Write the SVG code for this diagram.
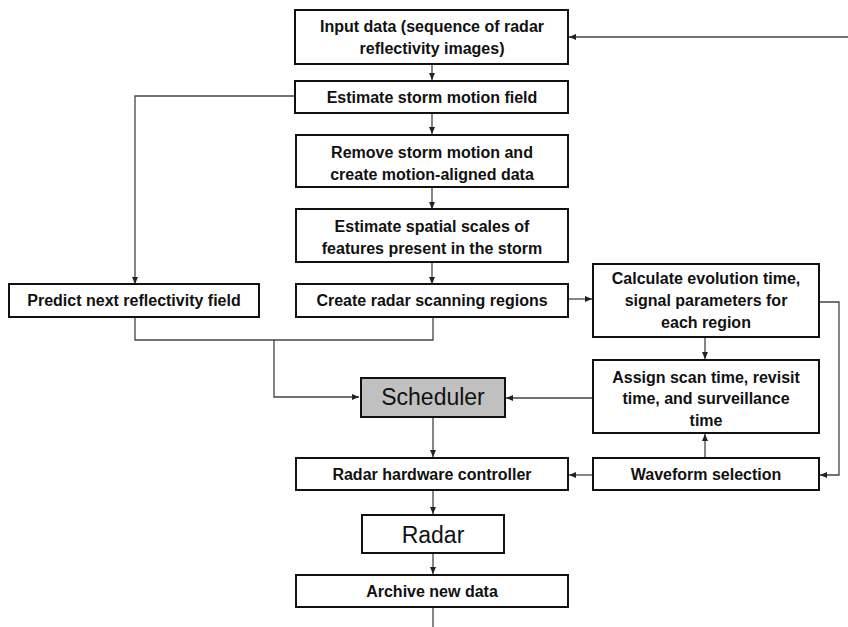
<svg xmlns="http://www.w3.org/2000/svg" width="848" height="627" viewBox="0 0 848 627">
<style>
.box{fill:#fff;stroke:#111;stroke-width:2}
.grey{fill:#c0c0c0}
.t{font-family:"Liberation Sans",Arial,sans-serif;font-size:16px;font-weight:bold;fill:#111;text-anchor:middle}
.big{font-family:"Liberation Sans",Arial,sans-serif;font-size:23px;fill:#111;text-anchor:middle}
.c{fill:none;stroke:#444;stroke-width:1.3}
</style>
<defs>
<marker id="a" markerWidth="8" markerHeight="8" refX="7" refY="4" orient="auto" markerUnits="userSpaceOnUse">
<path d="M0,1 L7,4 L0,7 Z" fill="#222"/>
</marker>
</defs>
<rect width="848" height="627" fill="#fff"/>
<g id="connectors">
<path class="c" d="M848,37 H569" marker-end="url(#a)"/>
<path class="c" d="M432,64 V80" marker-end="url(#a)"/>
<path class="c" d="M432,113 V134" marker-end="url(#a)"/>
<path class="c" d="M432,187 V209" marker-end="url(#a)"/>
<path class="c" d="M432,262 V284" marker-end="url(#a)"/>
<path class="c" d="M295,96 H135 V284" marker-end="url(#a)"/>
<path class="c" d="M568,299 H592" marker-end="url(#a)"/>
<path class="c" d="M135,317 V340 H433 V317"/>
<path class="c" d="M274,340 V397 H359" marker-end="url(#a)"/>
<path class="c" d="M705,337 V359" marker-end="url(#a)"/>
<path class="c" d="M705,458 V434" marker-end="url(#a)"/>
<path class="c" d="M819,302 H839 V475 H820" marker-end="url(#a)"/>
<path class="c" d="M593,398 H506" marker-end="url(#a)"/>
<path class="c" d="M593,475 H569" marker-end="url(#a)"/>
<path class="c" d="M433,417 V457" marker-end="url(#a)"/>
<path class="c" d="M433,490 V514" marker-end="url(#a)"/>
<path class="c" d="M433,553 V574" marker-end="url(#a)"/>
<path class="c" d="M433,607 V627"/>
</g>
<g id="n1"><rect class="box" x="295" y="10" width="273" height="54"/>
<text class="t" x="432" y="32">Input data (sequence of radar</text>
<text class="t" x="432" y="54">reflectivity images)</text></g>
<g id="n2"><rect class="box" x="295" y="81" width="273" height="32"/>
<text class="t" x="432" y="103">Estimate storm motion field</text></g>
<g id="n3"><rect class="box" x="296" y="135" width="272" height="52"/>
<text class="t" x="432" y="158">Remove storm motion and</text>
<text class="t" x="432" y="180">create motion-aligned data</text></g>
<g id="n4"><rect class="box" x="296" y="209" width="272" height="53"/>
<text class="t" x="432" y="232">Estimate spatial scales of</text>
<text class="t" x="432" y="254">features present in the storm</text></g>
<g id="n5"><rect class="box" x="9" y="284" width="250" height="33"/>
<text class="t" x="134" y="306">Predict next reflectivity field</text></g>
<g id="n6"><rect class="box" x="296" y="284" width="272" height="33"/>
<text class="t" x="432" y="306">Create radar scanning regions</text></g>
<g id="n7"><rect class="box" x="593" y="264" width="226" height="73"/>
<text class="t" x="706" y="284">Calculate evolution time,</text>
<text class="t" x="706" y="306">signal parameters for</text>
<text class="t" x="706" y="328">each region</text></g>
<g id="n8"><rect class="box grey" x="361" y="378" width="144" height="39"/>
<text class="big" x="433" y="405">Scheduler</text></g>
<g id="n9"><rect class="box" x="593" y="360" width="226" height="73"/>
<text class="t" x="706" y="383">Assign scan time, revisit</text>
<text class="t" x="706" y="404">time, and surveillance</text>
<text class="t" x="706" y="426">time</text></g>
<g id="n10"><rect class="box" x="296" y="458" width="272" height="32"/>
<text class="t" x="432" y="480">Radar hardware controller</text></g>
<g id="n11"><rect class="box" x="593" y="458" width="226" height="32"/>
<text class="t" x="706" y="480">Waveform selection</text></g>
<g id="n12"><rect class="box" x="362" y="515" width="142" height="38"/>
<text class="big" x="433" y="543">Radar</text></g>
<g id="n13"><rect class="box" x="296" y="575" width="272" height="32"/>
<text class="t" x="432" y="597">Archive new data</text></g>
</svg>
